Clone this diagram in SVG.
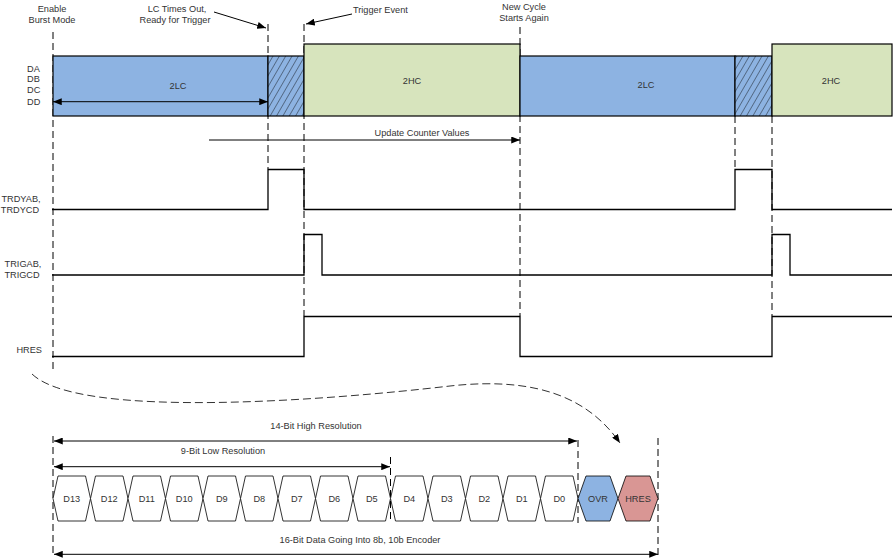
<svg xmlns="http://www.w3.org/2000/svg" width="894" height="560" viewBox="0 0 894 560">
<style>
text{font-family:"Liberation Sans",Arial,sans-serif;font-size:9.2px;fill:#333}
.c{text-anchor:middle}
.e{text-anchor:end}
.dash{stroke:#000;stroke-width:1;stroke-dasharray:7,4;fill:none}
.w{stroke:#000;stroke-width:1.3;fill:none}
.ln{stroke:#000;stroke-width:1;fill:none}
.blue{fill:#8DB3E2;stroke:#000;stroke-width:1.2}
.green{fill:#D7E4BD;stroke:#000;stroke-width:1.2}
.hatch{fill:url(#hatch);stroke:#000;stroke-width:1.2}
.hex{fill:#fff;stroke:#000;stroke-width:0.8}
</style>
<defs>
<marker id="ah" viewBox="0 0 10 8" refX="10" refY="4" markerWidth="9" markerHeight="7" orient="auto-start-reverse" markerUnits="userSpaceOnUse"><path d="M0,0L10,4L0,8z" fill="#000"/></marker>
<pattern id="hatch" width="5.5" height="10" patternUnits="userSpaceOnUse" patternTransform="rotate(30)"><rect width="5.5" height="10" fill="#8DB3E2"/><line x1="0" y1="0" x2="0" y2="10" stroke="#000" stroke-width="0.8"/></pattern>
</defs>
<rect width="894" height="560" fill="#fff"/>

<g id="guides">
<path class="dash" d="M53,32V372M268,24V169M304,24V316M520,27V316M735,116V169M772,116V316"/>
<path class="dash" d="M53,436V556M390.5,457V522M578,440V523M658,438V555"/>
</g>

<g id="bars">
<rect class="blue" x="53" y="56" width="215" height="60"/>
<rect class="hatch" x="268" y="56" width="36" height="60"/>
<rect class="green" x="304" y="44" width="216" height="72"/>
<rect class="blue" x="520" y="56" width="215" height="60"/>
<rect class="hatch" x="735" y="56" width="37" height="60"/>
<rect class="green" x="772" y="44" width="120" height="72"/>
<text class="c" x="178" y="89.3">2LC</text>
<text class="c" x="412" y="84">2HC</text>
<text class="c" x="646" y="88.3">2LC</text>
<text class="c" x="831" y="84">2HC</text>
</g>

<g id="labels">
<text class="c" x="52" y="11.7">Enable</text>
<text class="c" x="52" y="23">Burst Mode</text>
<text class="c" x="177" y="11.7">LC Times Out,</text>
<text class="c" x="175" y="23">Ready for Trigger</text>
<text x="353" y="13.3">Trigger Event</text>
<text class="c" x="524" y="10">New Cycle</text>
<text class="c" x="524" y="20.5">Starts Again</text>
<text x="27" y="71.7">DA</text>
<text x="27" y="82.3">DB</text>
<text x="27" y="93.3">DC</text>
<text x="27" y="104.8">DD</text>
<text class="c" x="422" y="135.5">Update Counter Values</text>
<text class="c" x="21" y="201.6">TRDYAB,</text>
<text class="c" x="20" y="212.6">TRDYCD</text>
<text class="c" x="23" y="266.6">TRIGAB,</text>
<text class="c" x="22" y="277.6">TRIGCD</text>
<text class="e" x="42" y="353.3">HRES</text>
<text class="c" x="316" y="429">14-Bit High Resolution</text>
<text class="c" x="223" y="454">9-Bit Low Resolution</text>
<text class="c" x="360" y="542.6">16-Bit Data Going Into 8b, 10b Encoder</text>
</g>

<g id="waveforms">
<path id="trdy" class="w" d="M52,209.5H268V169.5H304V209.5H735V169.5H772V209.5H892"/>
<path id="trig" class="w" d="M52,275H304V234.5H322V275H772V234.5H790V275H892"/>
<path id="hres" class="w" d="M52,356.5H304V316.5H520V356.5H772V316.5H892"/>
</g>

<g id="bits">
<g id="d13"><polygon class="hex" points="53,498.5 58,476 85.5,476 90.5,498.5 85.5,521 58,521"/><text class="c" x="71.75" y="501.8">D13</text></g>
<g id="d12"><polygon class="hex" points="90.5,498.5 95.5,476 123,476 128,498.5 123,521 95.5,521"/><text class="c" x="109.25" y="501.8">D12</text></g>
<g id="d11"><polygon class="hex" points="128,498.5 133,476 160.5,476 165.5,498.5 160.5,521 133,521"/><text class="c" x="146.75" y="501.8">D11</text></g>
<g id="d10"><polygon class="hex" points="165.5,498.5 170.5,476 198,476 203,498.5 198,521 170.5,521"/><text class="c" x="184.25" y="501.8">D10</text></g>
<g id="d9"><polygon class="hex" points="203,498.5 208,476 235.5,476 240.5,498.5 235.5,521 208,521"/><text class="c" x="221.75" y="501.8">D9</text></g>
<g id="d8"><polygon class="hex" points="240.5,498.5 245.5,476 273,476 278,498.5 273,521 245.5,521"/><text class="c" x="259.25" y="501.8">D8</text></g>
<g id="d7"><polygon class="hex" points="278,498.5 283,476 310.5,476 315.5,498.5 310.5,521 283,521"/><text class="c" x="296.75" y="501.8">D7</text></g>
<g id="d6"><polygon class="hex" points="315.5,498.5 320.5,476 348,476 353,498.5 348,521 320.5,521"/><text class="c" x="334.25" y="501.8">D6</text></g>
<g id="d5"><polygon class="hex" points="353,498.5 358,476 385.5,476 390.5,498.5 385.5,521 358,521"/><text class="c" x="371.75" y="501.8">D5</text></g>
<g id="d4"><polygon class="hex" points="390.5,498.5 395.5,476 423,476 428,498.5 423,521 395.5,521"/><text class="c" x="409.25" y="501.8">D4</text></g>
<g id="d3"><polygon class="hex" points="428,498.5 433,476 460.5,476 465.5,498.5 460.5,521 433,521"/><text class="c" x="446.75" y="501.8">D3</text></g>
<g id="d2"><polygon class="hex" points="465.5,498.5 470.5,476 498,476 503,498.5 498,521 470.5,521"/><text class="c" x="484.25" y="501.8">D2</text></g>
<g id="d1"><polygon class="hex" points="503,498.5 508,476 535.5,476 540.5,498.5 535.5,521 508,521"/><text class="c" x="521.75" y="501.8">D1</text></g>
<g id="d0"><polygon class="hex" points="540.5,498.5 545.5,476 573,476 578,498.5 573,521 545.5,521"/><text class="c" x="559.25" y="501.8">D0</text></g>
<g id="ovr"><polygon class="hex" style="fill:#8DB3E2" points="578,498.5 586,476 610,476 618,498.5 610,521 586,521"/><text class="c" x="598" y="501.8">OVR</text></g>
<g id="hresbit"><polygon class="hex" style="fill:#D99694" points="618,498.5 626,476 650,476 658,498.5 650,521 626,521"/><text class="c" x="638" y="501.8">HRES</text></g>
</g>

<g id="connectors">
<path class="ln" d="M214,12L266,28" marker-end="url(#ah)"/>
<path class="ln" d="M352,14L306,24" marker-end="url(#ah)"/>
<path class="ln" d="M53,101.7H268" marker-start="url(#ah)" marker-end="url(#ah)"/>
<path class="ln" d="M209,140H520" marker-end="url(#ah)"/>
<path class="ln" d="M32,374C80,420 330,400 450,386C540,376 590,400 620,443" style="stroke:#333;stroke-dasharray:8,4" marker-end="url(#ah)"/>
<path class="ln" d="M54,441H577" marker-start="url(#ah)" marker-end="url(#ah)"/>
<path class="ln" d="M54,466.7H390" marker-start="url(#ah)" marker-end="url(#ah)"/>
<path class="ln" d="M54,554.3H658" marker-start="url(#ah)" marker-end="url(#ah)"/>
</g>
</svg>
